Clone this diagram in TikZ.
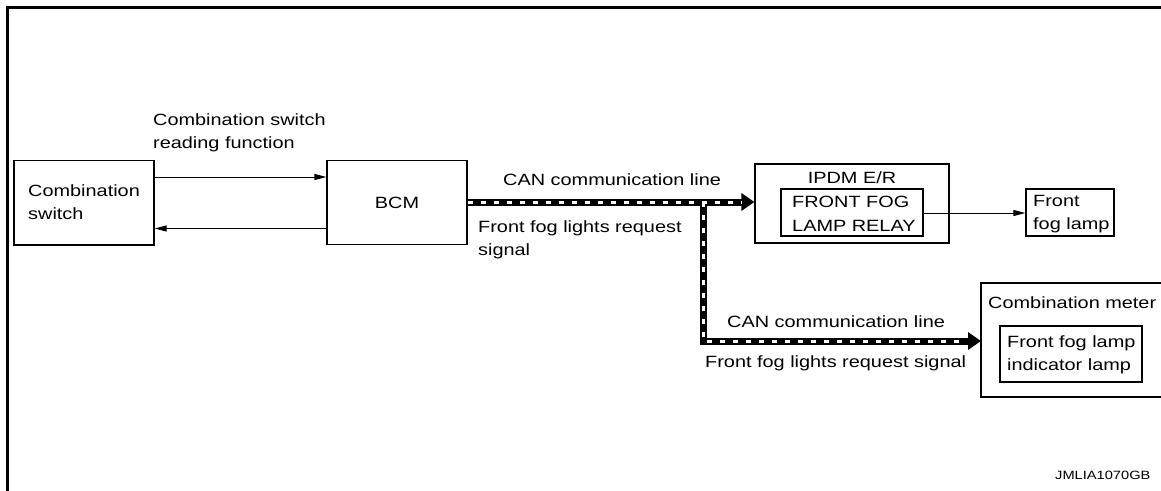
\documentclass[tikz,border=0pt]{standalone}
\usepackage{fontspec}
\setmainfont{Liberation Sans}[FakeStretch=1.22]
\usetikzlibrary{arrows.meta}
\begin{document}
\begin{tikzpicture}[x=1pt,y=-1pt,
  box/.style={draw, line width=1.2pt, inner sep=0pt, rectangle},
  lbl/.style={anchor=base west, inner sep=0pt, font=\fontsize{16.3}{23}\selectfont, align=left},
  arr/.style={line width=1pt, -{Triangle[length=12pt,width=6pt]}},
  canblack/.style={line width=7pt, -{Triangle[length=13pt,width=17pt]}},
  canwhite/.style={white, line width=3pt, dash pattern=on 5pt off 8pt},
  frame/.style={line width=3pt}]
\useasboundingbox (0,0) rectangle (1161,490);
\clip (0,0) rectangle (1161,490);
% outer frame
\draw[frame] (7.5,495) -- (7.5,7) -- (1170,7);
% boxes
\node[box, minimum width=140pt, minimum height=84.5pt] (cs) at (84,202.75) {};
\node[lbl] (cst) at (28,219) {Combination\\switch};
\node[box, minimum width=140pt, minimum height=84pt, font=\fontsize{16.3}{23}\selectfont] (bcm) at (397,202.5) {BCM};
\node[lbl] (csr) at (153,148) {Combination switch\\reading function};
\draw[arr] (cs.east |- 0,177) -- (bcm.west |- 0,177);
\draw[arr] (bcm.west |- 0,228.5) -- (cs.east |- 0,228.5);
% IPDM
\node[box, minimum width=194pt, minimum height=79pt] (ipdm) at (852,203.5) {};
\node[font=\fontsize{16.3}{23}\selectfont, anchor=base, inner sep=0pt] (ipdmt) at (852,183) {IPDM E/R};
\node[box, minimum width=142pt, minimum height=47pt] (relay) at (852,212.5) {};
\node[lbl] (relayt) at (792,231) {FRONT FOG\\[1pt]LAMP RELAY};
\node[box, minimum width=88pt, minimum height=47pt] (lamp) at (1070,212.5) {};
\node[lbl] (lampt) at (1033,229) {Front\\fog lamp};
\draw[arr] (relay.east |- 0,213) -- (lamp.west |- 0,213);
% Combination meter
\draw[line width=1.2pt] (1170,283) -- (981,283) -- (981,397) -- (1170,397);
\coordinate (cmw) at (981,341);
\node[lbl] (cmt) at (988,308) {Combination meter};
\node[box, minimum width=142pt, minimum height=56pt] (ind) at (1071,354) {};
\node[lbl] (indt) at (1007,370) {Front fog lamp\\indicator lamp};
% CAN lines
\coordinate (c1s) at (bcm.east |- 0,202);
\coordinate (c1e) at (ipdm.west |- 0,202);
\coordinate (jn) at (703,202);
\coordinate (jc) at (703,341);
\coordinate (w1e) at (741,202);
\coordinate (w2e) at (964,341);
\draw[canblack] (c1s) -- (c1e);
\draw[canblack] (jn) -- (jc) -- (cmw);
\draw[canwhite] (c1s) -- (w1e);
\draw[canwhite] (jn) -- (jc) -- (w2e);
\node[lbl] (can1) at (503,185) {CAN communication line};
\node[lbl] (sig1) at (478,255) {Front fog lights request\\signal};
\node[lbl] (can2) at (727,327) {CAN communication line};
\node[lbl] (sig2) at (705,367) {Front fog lights request signal};
\node[anchor=base west, inner sep=0pt, font=\fontsize{12}{14}\selectfont] (code) at (1055,479) {JMLIA1070GB};
\end{tikzpicture}
\end{document}
